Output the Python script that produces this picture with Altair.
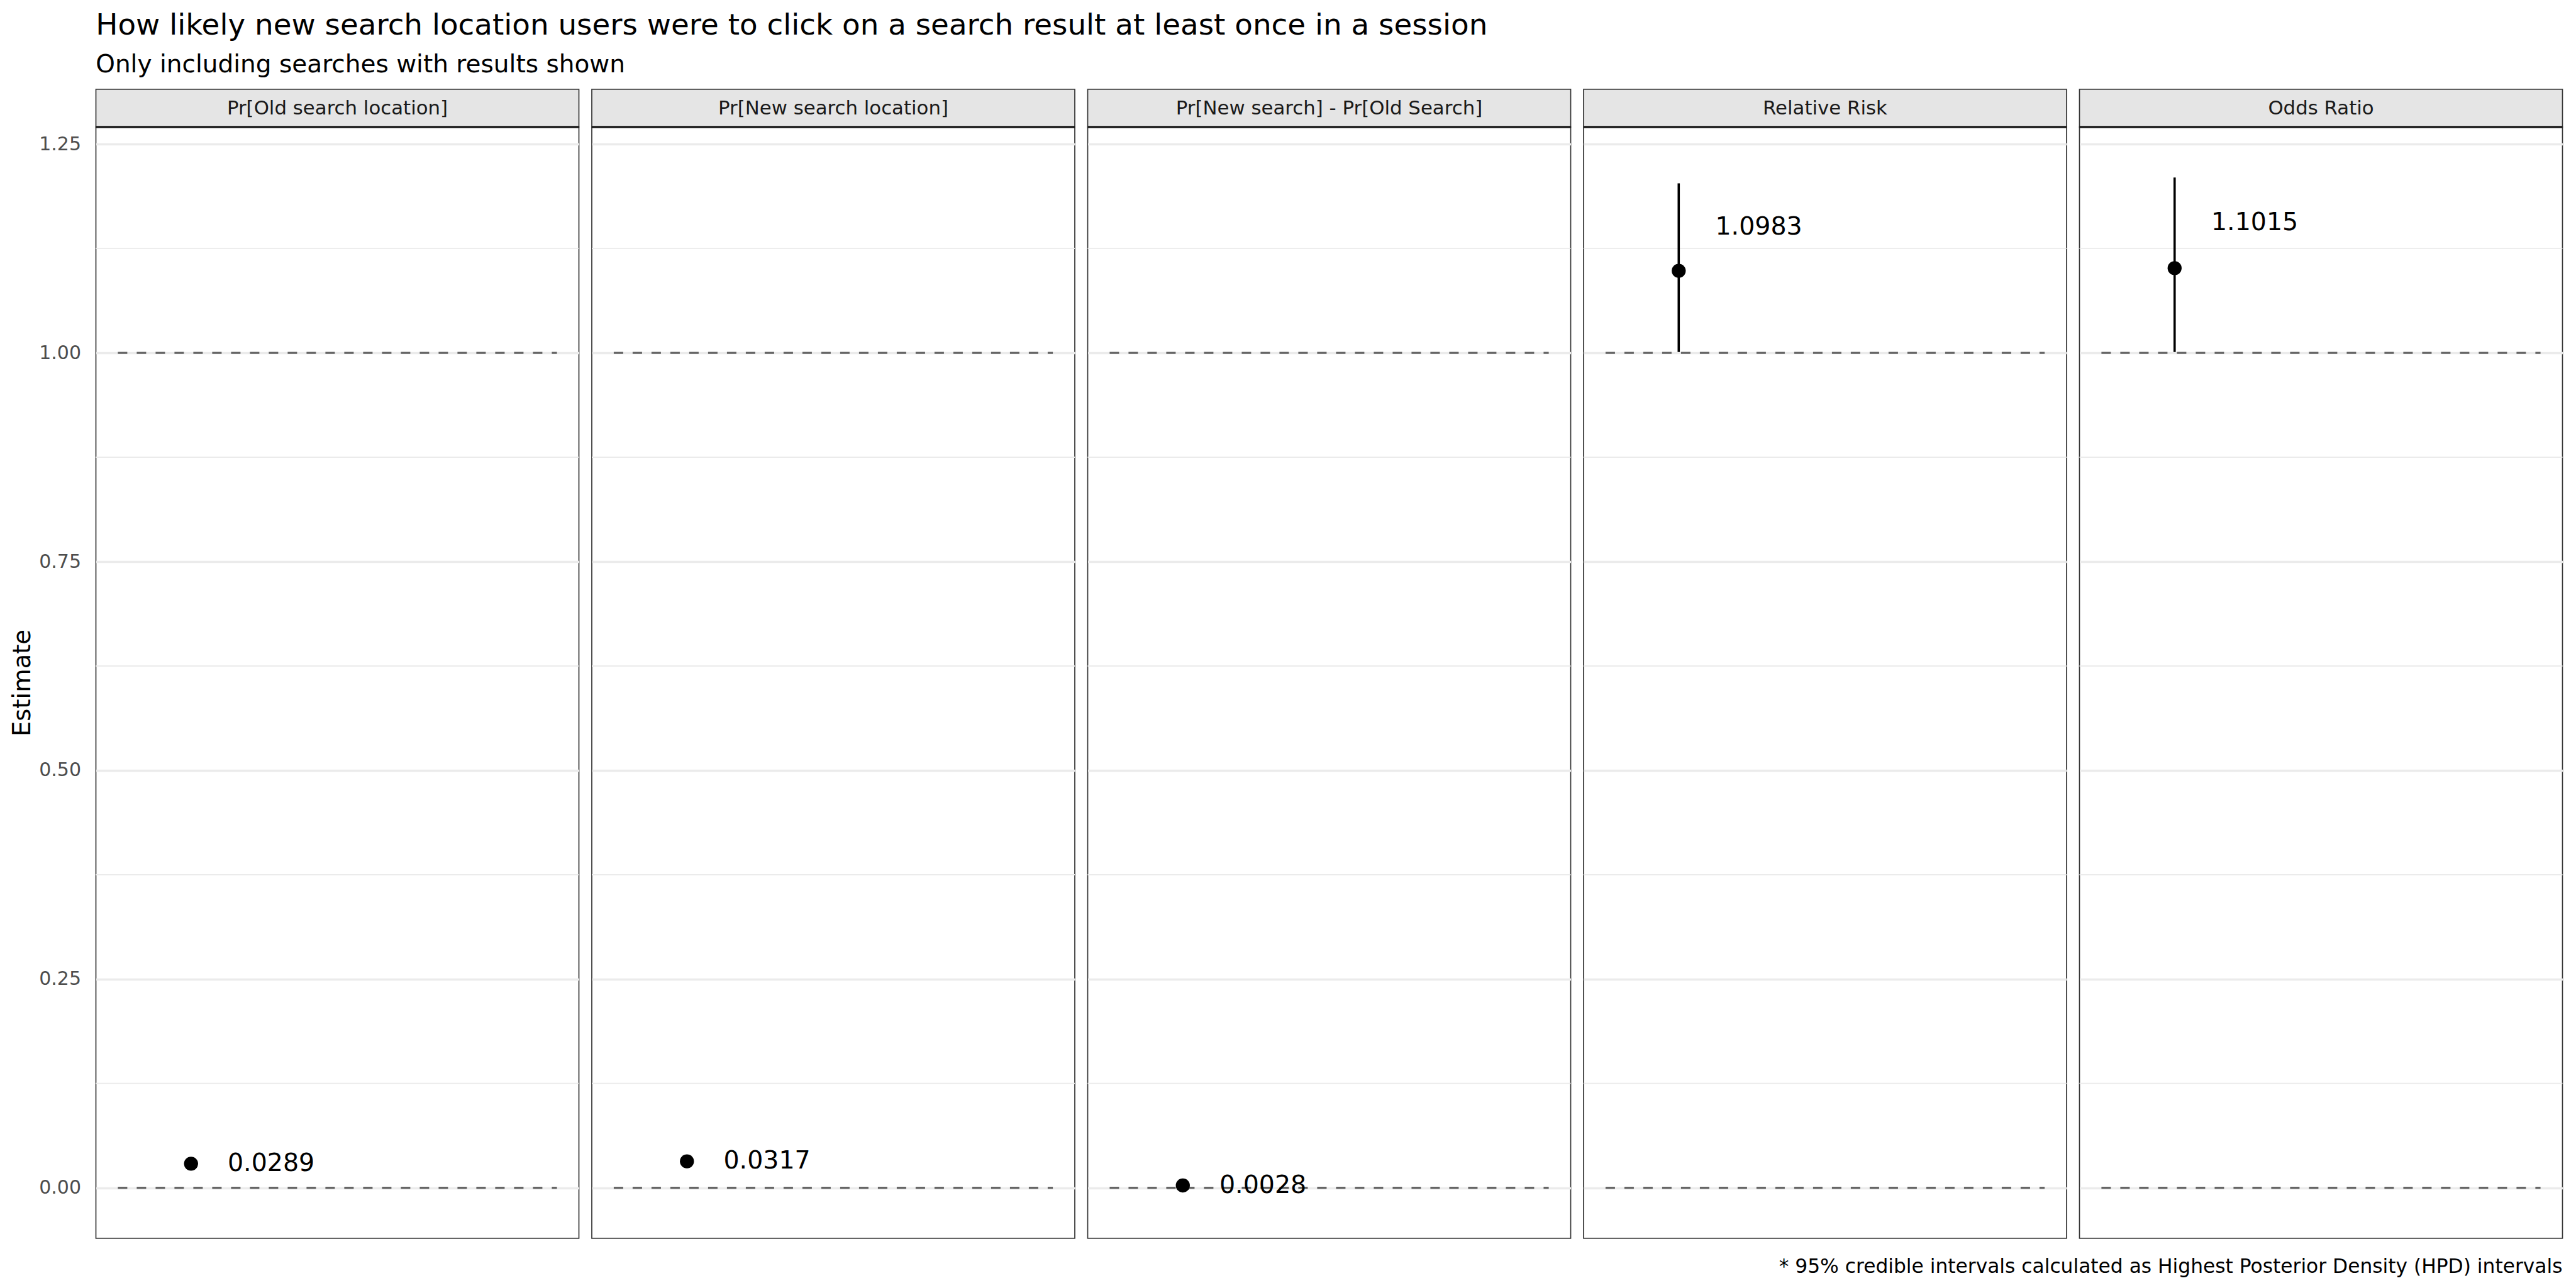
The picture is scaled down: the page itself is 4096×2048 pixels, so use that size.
import altair as alt
import pandas as pd

# ---------------- data ----------------
panels = [
    "Pr[Old search location]",
    "Pr[New search location]",
    "Pr[New search] - Pr[Old Search]",
    "Relative Risk",
    "Odds Ratio",
]
estimates = [0.0289, 0.0317, 0.0028, 1.0983, 1.1015]
lower_ci = [0.0285, 0.0313, 0.0022, 1.0010, 1.0010]
upper_ci = [0.0293, 0.0321, 0.0034, 1.2030, 1.2100]
value_labels = ["0.0289", "0.0317", "0.0028", "1.0983", "1.1015"]
reference_values = [0.0, 1.0]
y_ticks = [0.0, 0.25, 0.5, 0.75, 1.0, 1.25]
minor_ticks = [0.125, 0.375, 0.625, 0.875, 1.125]

title_text = "How likely new search location users were to click on a search result at least once in a session"
subtitle_text = "Only including searches with results shown"
caption_text = "* 95% credible intervals calculated as Highest Posterior Density (HPD) intervals"

# ---------------- table ----------------
rows = []
for p, e, lo, hi, lab in zip(panels, estimates, lower_ci, upper_ci, value_labels):
    rows.append(dict(panel=p, kind="est", est=e, lo=lo, hi=hi, label=lab, ly=(e + hi) / 2))
    for r in reference_values:
        rows.append(dict(panel=p, kind="ref", y=r))
    for m in minor_ticks:
        rows.append(dict(panel=p, kind="minor", y=m))
df = pd.DataFrame(rows)

# ggplot-like 5% expansion
ymin = min(min(lower_ci), min(reference_values))
ymax = max(max(upper_ci), max(reference_values))
pad = 0.05 * (ymax - ymin)
ydom = [ymin - pad, ymax + pad]
xdom = [0.5 - 0.15, 3.5 + 0.15]

FONT = "DejaVu Sans"
W = 768
H = 1767
STRIP = 60

yscale = alt.Scale(domain=ydom, nice=False, zero=False)
xscale = alt.Scale(domain=xdom, nice=False, zero=False)
yaxis = alt.Axis(
    values=y_ticks,
    format=".2f",
    labelFont=FONT,
    labelFontSize=30,
    labelColor="#4D4D4D",
    ticks=False,
    tickSize=0,
    domain=False,
    grid=True,
    gridColor="#EBEBEB",
    gridWidth=3.6,
    labelPadding=24,
    titleFont=FONT,
    titleFontSize=38.5,
    titleFontWeight="normal",
    titleColor="black",
    titlePadding=6,
    title="Estimate",
)

base = alt.Chart(df)

minor = base.transform_filter(alt.datum.kind == "minor").mark_rule(
    color="#EBEBEB", strokeWidth=1.9
).encode(
    y=alt.Y("y:Q", scale=yscale, axis=yaxis),
    x=alt.value(0),
    x2=alt.value(W),
)

refs = base.transform_filter(alt.datum.kind == "ref").mark_rule(
    color="#666666", strokeWidth=3.4, strokeDash=[15, 15]
).encode(
    y=alt.Y("y:Q", scale=yscale, axis=yaxis),
    x=alt.XDatum(0.5, scale=xscale, axis=None),
    x2=alt.X2Datum(3.5),
)

est = base.transform_filter(alt.datum.kind == "est")

bars = est.mark_rule(color="black", strokeWidth=3.6).encode(
    x=alt.XDatum(1.0, scale=xscale, axis=None),
    y=alt.Y("lo:Q", scale=yscale, axis=yaxis),
    y2="hi:Q",
)

pts = est.mark_point(filled=True, color="black", opacity=1, size=500, shape="circle").encode(
    x=alt.XDatum(1.0, scale=xscale, axis=None),
    y=alt.Y("est:Q", scale=yscale, axis=yaxis),
)

vals = est.mark_text(
    align="left", baseline="middle", font=FONT, fontSize=39.5, color="black"
).encode(
    x=alt.XDatum(1.25, scale=xscale, axis=None),
    y=alt.Y("ly:Q", scale=yscale, axis=yaxis),
    text="label:N",
)

strip_bg = est.mark_rect(fill="#E5E5E5", stroke="#333333", strokeWidth=1.7).encode(
    x=alt.value(0), x2=alt.value(W), y=alt.value(-STRIP), y2=alt.value(0)
)
strip_line = est.mark_rule(color="#1A1A1A", strokeWidth=3.4).encode(
    x=alt.value(0), x2=alt.value(W), y=alt.value(0)
)
strip_txt = est.mark_text(
    align="center", baseline="middle", font=FONT, fontSize=30.8, color="#1A1A1A"
).encode(x=alt.value(W / 2), y=alt.value(-STRIP / 2 + 1), text="panel:N")

cap = est.transform_filter(alt.datum.panel == panels[-1]).mark_text(
    align="right", baseline="alphabetic", font=FONT, fontSize=31.3, color="black"
).encode(x=alt.value(W), y=alt.value(H + 55), text=alt.value(caption_text))

layer = alt.layer(minor, refs, bars, pts, vals, strip_bg, strip_line, strip_txt, cap).properties(
    width=W, height=H
)

chart = layer.facet(
    column=alt.Column("panel:N", sort=panels, header=alt.Header(labels=False, title=None)),
    spacing=20.5,
    bounds="flush",
).properties(
    title=alt.TitleParams(
        text=title_text,
        subtitle=subtitle_text,
        anchor="start",
        font=FONT,
        subtitleFont=FONT,
        fontSize=46.8,
        subtitleFontSize=39,
        fontWeight="normal",
        color="black",
        subtitleColor="black",
        offset=17.3,
        subtitlePadding=19,
        dx=135.5,
    ),
    padding={"left": 16.5, "top": 18, "right": 10, "bottom": 10},
).configure(
    background="white"
).configure_view(
    stroke="#333333", strokeWidth=1.7
)

chart.save("out.html", embed_options={"renderer": "svg", "actions": False})
